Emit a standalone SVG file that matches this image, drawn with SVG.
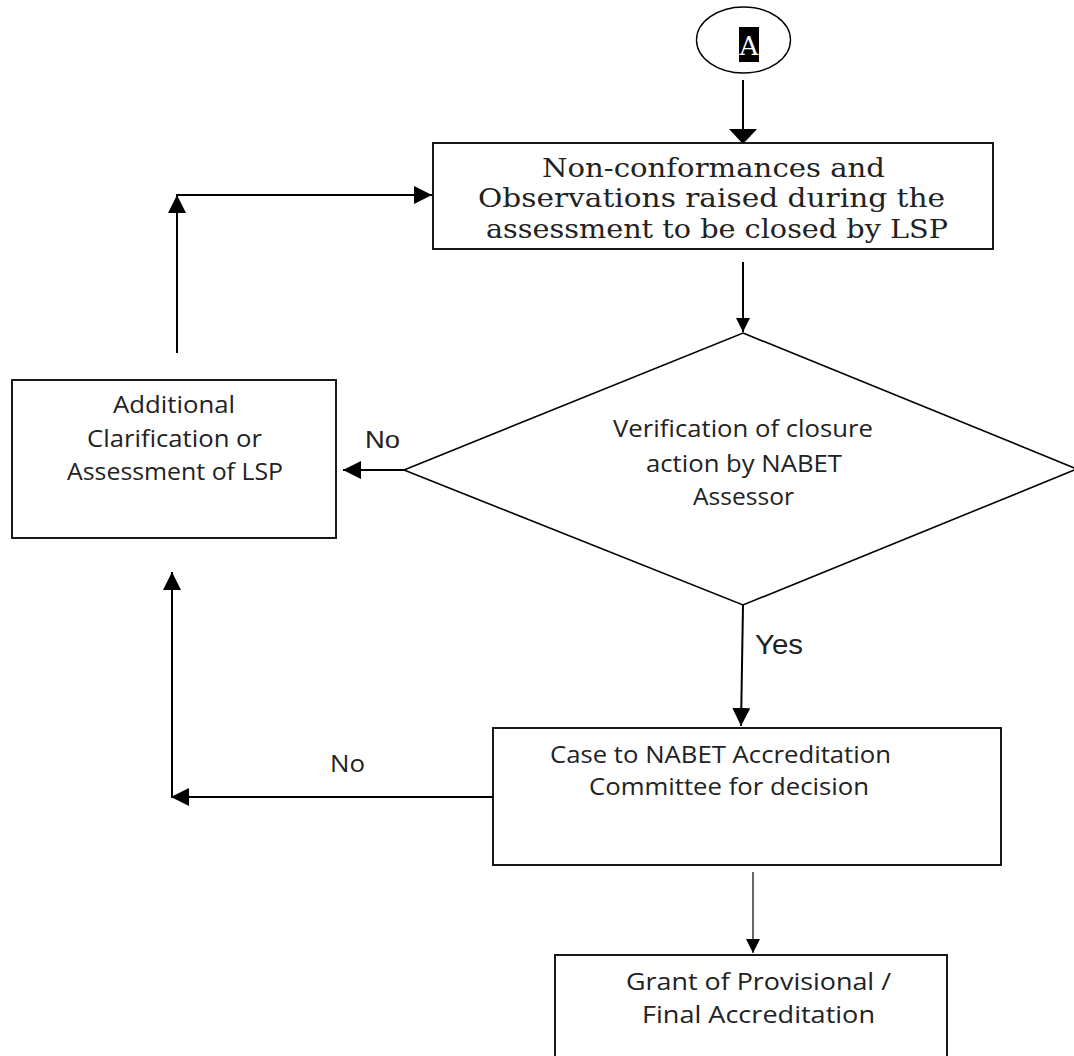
<svg xmlns="http://www.w3.org/2000/svg" width="1074" height="1056" viewBox="0 0 1074 1056">
<style>
.box{fill:#fff;stroke:#000;stroke-width:1.8}
.ln{fill:none;stroke:#000;stroke-width:2}
.thin{fill:none;stroke:#000;stroke-width:1.2}
.serif{font-family:"DejaVu Serif","Liberation Serif",serif;font-size:26px;fill:#222}
.sans{font-family:"Open Sans","Noto Sans",sans-serif;font-size:24px;fill:#222}
.arial{font-family:"Liberation Sans",Arial,sans-serif;fill:#222}
</style>
<defs>
<marker id="ah" markerUnits="userSpaceOnUse" markerWidth="18" markerHeight="18" refX="18" refY="9" orient="auto"><path d="M0,0 L18,9 L0,18 Z" fill="#000"/></marker>
<marker id="ahBig" markerUnits="userSpaceOnUse" markerWidth="15" markerHeight="28" refX="15" refY="14" orient="auto"><path d="M0,0 L15,14 L0,28 Z" fill="#000"/></marker>
<marker id="ahSm" markerUnits="userSpaceOnUse" markerWidth="14" markerHeight="14" refX="14" refY="7" orient="auto"><path d="M0,0 L14,7 L0,14 Z" fill="#000"/></marker>
</defs>
<rect width="1074" height="1056" fill="#fff"/>

<g id="connectors">
<line class="ln" x1="743" y1="80" x2="743" y2="144" stroke-width="2.6" marker-end="url(#ahBig)"/>
<line class="ln" x1="743" y1="262" x2="743" y2="332" marker-end="url(#ahSm)"/>
<line class="ln" x1="404" y1="470" x2="343" y2="470" stroke-width="2.4" marker-end="url(#ah)"/>
<line class="ln" x1="177" y1="353" x2="177" y2="195" marker-end="url(#ah)"/>
<line class="ln" x1="176" y1="195" x2="432" y2="195" marker-end="url(#ah)"/>
<line class="ln" x1="743" y1="605" x2="741" y2="726" marker-end="url(#ah)"/>
<line class="ln" x1="493" y1="797" x2="171" y2="797" stroke-width="2.8" marker-end="url(#ah)"/>
<line class="ln" x1="172" y1="797" x2="172" y2="572" marker-end="url(#ah)"/>
<line class="thin" x1="753" y1="872" x2="753" y2="953" marker-end="url(#ahSm)"/>
<text class="arial" x="365" y="448" font-size="24" textLength="35" lengthAdjust="spacingAndGlyphs">No</text>
<text class="arial" x="755" y="654" font-size="27" textLength="48" lengthAdjust="spacingAndGlyphs">Yes</text>
<text class="sans" x="330" y="772" textLength="35" lengthAdjust="spacingAndGlyphs">No</text>
</g>

<g id="startA">
<ellipse cx="743.5" cy="40" rx="47" ry="33" fill="#fff" stroke="#000" stroke-width="1.4"/>
<rect x="739" y="27" width="20" height="35" fill="#000"/>
<text x="749" y="55" text-anchor="middle" font-family="DejaVu Serif,Liberation Serif,serif" font-size="26" fill="#fff">A</text>
</g>

<g id="ncBox">
<rect class="box" x="433" y="143" width="560" height="106" stroke-width="2.6"/>
<text class="serif" x="542" y="177" textLength="343" lengthAdjust="spacingAndGlyphs">Non-conformances and</text>
<text class="serif" x="478" y="207" textLength="467" lengthAdjust="spacingAndGlyphs">Observations raised during the</text>
<text class="serif" x="486" y="238" textLength="462" lengthAdjust="spacingAndGlyphs">assessment to be closed by LSP</text>
</g>

<g id="verifyDiamond">
<polygon points="743,333 1077,469 743,605 404,470" fill="#fff" stroke="#000" stroke-width="1.6"/>
<text class="sans" x="613" y="437" font-size="25" textLength="260" lengthAdjust="spacingAndGlyphs">Verification of closure</text>
<text class="sans" x="646" y="472" font-size="25" textLength="196" lengthAdjust="spacingAndGlyphs">action by NABET</text>
<text class="sans" x="693" y="505" font-size="25" textLength="101" lengthAdjust="spacingAndGlyphs">Assessor</text>
</g>

<g id="additionalBox">
<rect class="box" x="12" y="380" width="324" height="158"/>
<text class="sans" x="113" y="413" textLength="122" lengthAdjust="spacingAndGlyphs">Additional</text>
<text class="sans" x="87" y="447" textLength="175" lengthAdjust="spacingAndGlyphs">Clarification or</text>
<text class="sans" x="67" y="480" textLength="216" lengthAdjust="spacingAndGlyphs">Assessment of LSP</text>
</g>

<g id="caseBox">
<rect class="box" x="493" y="728" width="508" height="137"/>
<text class="sans" x="550" y="763" textLength="341" lengthAdjust="spacingAndGlyphs">Case to NABET Accreditation</text>
<text class="sans" x="589" y="795" textLength="280" lengthAdjust="spacingAndGlyphs">Committee for decision</text>
</g>

<g id="grantBox">
<rect class="box" x="555" y="955" width="392" height="110"/>
<text class="sans" x="626" y="990" textLength="265" lengthAdjust="spacingAndGlyphs">Grant of Provisional /</text>
<text class="sans" x="642" y="1023" textLength="233" lengthAdjust="spacingAndGlyphs">Final Accreditation</text>
</g>
</svg>
